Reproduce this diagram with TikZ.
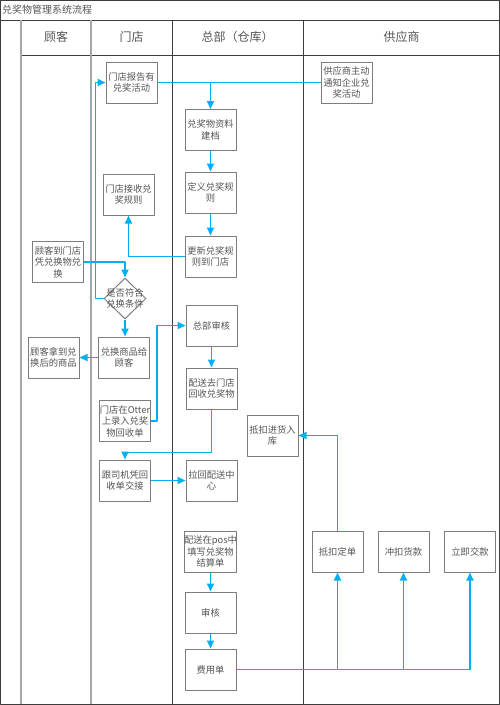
\documentclass[tikz,border=0pt]{standalone}
\usepackage{fontspec}
\setmainfont{Noto Sans CJK SC}
\usetikzlibrary{arrows.meta,shapes.geometric}
\definecolor{flowblue}{RGB}{0,176,240}
\definecolor{boxgray}{RGB}{125,125,125}
\definecolor{txtgray}{RGB}{85,85,85}
\definecolor{framegray}{RGB}{60,60,60}
\begin{document}
\begin{tikzpicture}[x=1pt,y=-1pt,line join=round,>={Triangle[length=8pt,width=7pt]},
    box/.style={draw=boxgray,line width=1pt,fill=white,minimum width=51pt,minimum height=41pt,
        inner sep=0pt,align=center,text=txtgray,font=\fontsize{9.3}{11.5}\selectfont},
    cond/.style={draw=boxgray,line width=1pt,diamond,minimum width=42pt,minimum height=41pt,inner sep=0pt},
    flow/.style={draw=flowblue,line width=1.8pt},
    lane/.style={font=\fontsize{12}{14}\selectfont,text=txtgray}]
\useasboundingbox (0,0) rectangle (500,705);
\fill[white] (0,0) rectangle (500,705);
% frame and lanes
\draw[framegray,line width=1pt] (0.5,0.5) rectangle (499.5,704);
\draw[framegray,line width=.8pt] (0,20) -- (500,20) (21,55) -- (500,55)
    (172,20) -- (172,704) (303,20) -- (303,704);
\draw[gray!70,line width=1.4pt] (21,20) -- (21,704) (91,20) -- (91,704);
\node[anchor=west,text=txtgray,font=\fontsize{10}{12}\selectfont,inner sep=1pt] (title) at (1,10) {兑奖物管理系统流程};
\node[lane] (hcust) at (56,37) {顾客};
\node[lane] (hshop) at (131.5,37) {门店};
\node[lane] (hhq) at (237.5,37) {总部（仓库）};
\node[lane] (hsup) at (401.5,37) {供应商};
% steps
\node[box] (rpt) at (131.5,82.5) {门店报告有\\兑奖活动};
\node[box] (sup) at (346.5,82.5) {供应商主动\\通知企业兑\\奖活动};
\node[box] (file) at (210.5,130) {兑奖物资料\\建档};
\node[box] (rule) at (210.5,192.5) {定义兑奖规\\则};
\node[box] (recv) at (128.5,194.5) {门店接收兑\\奖规则};
\node[box] (upd) at (210.5,256.5) {更新兑奖规\\则到门店};
\node[box] (cust) at (58,262) {顾客到门店\\凭兑换物兑\\换};
\node[cond,label={[align=center,text=txtgray,font=\fontsize{9.3}{11.5}\selectfont]center:是否符合\\兑换条件}] (chk) at (125,298.5) {};
\node[box] (give) at (124,357.5) {兑换商品给\\顾客};
\node[box] (got) at (53.5,357.5) {顾客拿到兑\\换后的商品};
\node[box] (aud) at (211.5,325.5) {总部审核};
\node[box] (ship) at (211.5,388.5) {配送去门店\\回收兑奖物};
\node[box] (otter) at (125,421) {门店在Otter\\上录入兑奖\\物回收单};
\node[box] (stock) at (272.5,435.5) {抵扣进货入\\库};
\node[box] (drv) at (125,480.5) {跟司机凭回\\收单交接};
\node[box] (pull) at (211.5,480.5) {拉回配送中\\心};
\node[box] (pos) at (210.5,551.5) {配送在pos中\\填写兑奖物\\结算单};
\node[box] (chk2) at (210.5,612.5) {审核};
\node[box] (fee) at (210.5,669.5) {费用单};
\node[box] (ded) at (337.5,551.5) {抵扣定单};
\node[box] (off) at (403.5,551.5) {冲扣货款};
\node[box] (pay) at (470,551.5) {立即交款};
% connectors
\draw[flow] (rpt) -- (sup);
\draw[flow,->] (rpt.east -| file.north) -- (file);
\draw[flow,->] (file) -- (rule);
\draw[flow,->] (rule) -- (upd);
\draw[flow,->] (upd.west) -| (recv.south);
\draw[flow,->] (chk.west) -- ++(-8,0) |- (rpt.west);
\draw[flow,->] (cust.east) -| (chk.north);
\draw[flow,->] (chk) -- (chk.south |- give.north);
\draw[flow,->] (give) -- (got);
\draw[flow,->] (otter.east) -- ++(6,0) |- (aud.west);
\draw[flow,->] (aud) -- (ship);
\draw[flow,->] (ship.south) -- ++(0,43) -| (drv.north);
\draw[flow,->] (drv) -- (pull);
\draw[flow,->] (pos) -- (chk2);
\draw[flow,->] (chk2) -- (fee);
\draw[flow] (fee.east) -- (fee.east -| pay.south);
\foreach \n in {ded,off,pay}
    \draw[flow,->] (fee.east -| \n.south) -- (\n.south);
\draw[flow,->] (ded.north) |- (stock.east);
\end{tikzpicture}
\end{document}
